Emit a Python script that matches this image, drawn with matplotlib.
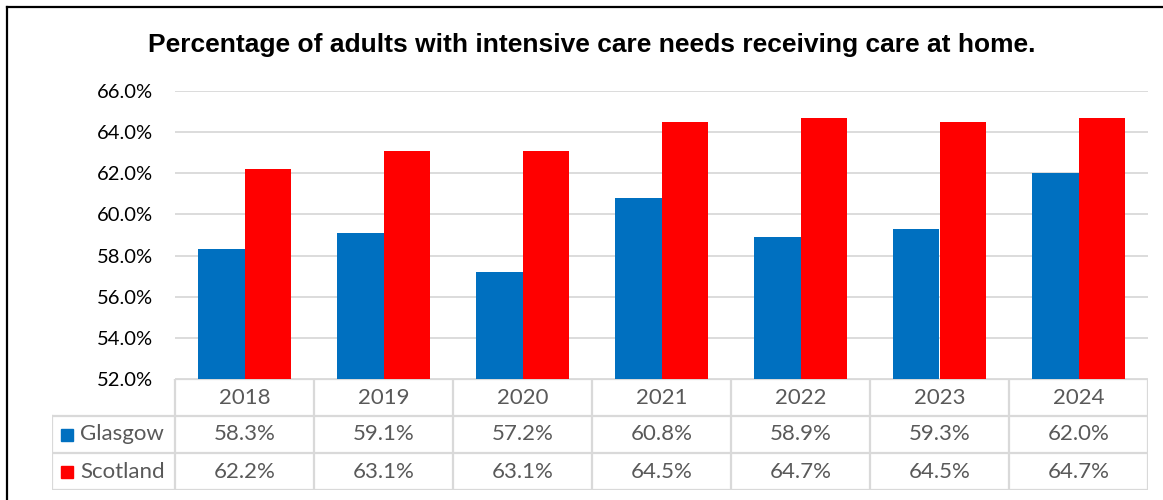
import matplotlib
matplotlib.use("Agg")
import matplotlib.pyplot as plt
from matplotlib.lines import Line2D
from matplotlib.patches import Rectangle
import numpy as np

years = ["2018", "2019", "2020", "2021", "2022", "2023", "2024"]
glasgow = [58.3, 59.1, 57.2, 60.8, 58.9, 59.3, 62.0]
scotland = [62.2, 63.1, 63.1, 64.5, 64.7, 64.5, 64.7]
series_names = ["Glasgow", "Scotland"]
series_colors = ["#0070C0", "#FF0000"]
y_ticks = [52, 54, 56, 58, 60, 62, 64, 66]
title = "Percentage of adults with intensive care needs receiving care at home."

W, H = 1163, 500
fig = plt.figure(figsize=(W / 100, H / 100), dpi=100)

# pixel layout helpers
def fx(px):
    return px / W

def fy(py):
    return 1 - py / H

plot_l, plot_r, plot_t, plot_b = 175, 1148, 91, 379
ax = fig.add_axes([fx(plot_l), fy(plot_b), fx(plot_r - plot_l), (plot_b - plot_t) / H])

x = np.arange(len(years))
bw = 0.335
ax.bar(x - bw / 2, [v - 52 for v in glasgow], bw, bottom=52, color=series_colors[0], zorder=3)
ax.bar(x + bw / 2, [v - 52 for v in scotland], bw, bottom=52, color=series_colors[1], zorder=3)
ax.set_xlim(-0.5, len(years) - 0.5)
ax.set_ylim(52, 66)
ax.set_yticks(y_ticks)
ax.set_yticklabels([f"{t:.1f}%" for t in y_ticks], fontsize=14.5, family="Lato", color="black")
ax.tick_params(axis="y", length=0, pad=16)
ax.set_xticks([])
ax.grid(axis="y", color="#D9D9D9", linewidth=1.3, zorder=0)
for s in ax.spines.values():
    s.set_visible(False)

# data table beneath the plot
tab_l, tab_t, tab_b = 52, 379, 490
tax = fig.add_axes([fx(tab_l), fy(tab_b), fx(plot_r - tab_l), (tab_b - tab_t) / H])
tax.set_xlim(tab_l, plot_r)
tax.set_ylim(tab_b, tab_t)
tax.axis("off")
row_h = (tab_b - tab_t) / 3
col_w = (plot_r - plot_l) / len(years)
lc = "#D9D9D9"
lw = 1.6
rows_y = [tab_t + i * row_h for i in range(4)]
tax.plot([plot_l, plot_r], [rows_y[0]] * 2, color=lc, lw=lw)
for yy in rows_y[1:]:
    tax.plot([tab_l, plot_r], [yy] * 2, color=lc, lw=lw)
tax.plot([tab_l, tab_l], [rows_y[1], rows_y[3]], color=lc, lw=lw)
for i in range(len(years) + 1):
    xx = plot_l + i * col_w
    tax.plot([xx, xx], [rows_y[0], rows_y[3]], color=lc, lw=lw)

txt_kw = dict(fontsize=16, family="Lato", color="#595959", ha="center", va="center")
for i, yr in enumerate(years):
    cx = plot_l + (i + 0.5) * col_w
    tax.text(cx, rows_y[0] + row_h / 2, yr, **txt_kw)
    tax.text(cx, rows_y[1] + row_h / 2, f"{glasgow[i]:.1f}%", **txt_kw)
    tax.text(cx, rows_y[2] + row_h / 2, f"{scotland[i]:.1f}%", **txt_kw)

for r, (name, col) in enumerate(zip(series_names, series_colors)):
    cy = rows_y[r + 1] + row_h / 2
    tax.add_patch(Rectangle((61, cy - 6), 12, 12, color=col))
    tax.text(80, cy, name, fontsize=16, family="Lato", color="#595959", ha="left", va="center")

fig.text(fx(592), fy(45), title, fontsize=19, fontweight="bold",
         family="Liberation Sans", ha="center", va="center")

# outer frame (left and top edges fall inside the canvas)
fig.add_artist(Line2D([fx(7), fx(7)], [0, fy(7)], color="black", lw=1.6))
fig.add_artist(Line2D([fx(7), 1], [fy(7), fy(7)], color="black", lw=1.6))

fig.savefig("out.png", dpi=100)
